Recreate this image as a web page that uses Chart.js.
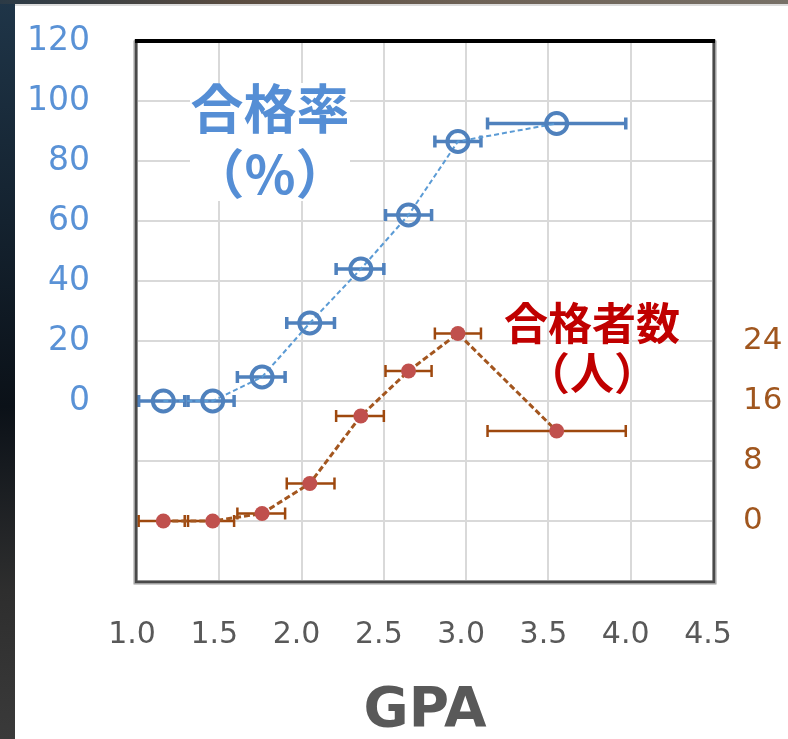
<!DOCTYPE html>
<html>
<head>
<meta charset="utf-8">
<script src="https://cdn.jsdelivr.net/npm/chart.js@4/dist/chart.umd.min.js"></script>
<style>
  html, body { margin: 0; padding: 0; background: #ffffff; }
  #wrap { position: relative; width: 788px; height: 739px; overflow: hidden; background: #ffffff; }
  #leftStrip { position: absolute; left: 0; top: 0; width: 15px; height: 739px;
    background: linear-gradient(to bottom, #1f3548 0%, #14222f 30%, #0b1118 55%, #2e2e2e 80%, #3a3a3a 100%); }
  #topStrip { position: absolute; left: 0; top: 0; width: 788px; height: 4px;
    background: linear-gradient(to right, #2b3a46 0%, #5a4c40 30%, #6e6256 60%, #777067 100%); }
  #topLine { position: absolute; left: 15px; top: 4px; width: 773px; height: 2px; background: #dcdcdc; }
  canvas { position: absolute; left: 0; top: 0; }
</style>
</head>
<body>
<div id="wrap">
  <div id="leftStrip"></div>
  <div id="topStrip"></div>
  <div id="topLine"></div>
  <canvas id="c" width="788" height="739"></canvas>
</div>
<script>
// ---- data ----
const gpaCenter = [1.16, 1.46, 1.76, 2.05, 2.36, 2.65, 2.95, 3.55];
const gpaLow    = [1.01, 1.31, 1.61, 1.91, 2.21, 2.51, 2.81, 3.13];
const gpaHigh   = [1.29, 1.59, 1.90, 2.20, 2.50, 2.79, 3.09, 3.97];
const passRate  = [0, 0, 8, 26, 44, 62, 86.5, 92.5];   // 合格率 (%)
const passers   = [0, 0, 1, 5, 14, 20, 25, 12];        // 合格者数 (人)

const xTicks   = [1.0, 1.5, 2.0, 2.5, 3.0, 3.5, 4.0, 4.5];
const rateTicks  = [0, 20, 40, 60, 80, 100, 120];
const countTicks = [0, 8, 16, 24];

const rateTitle  = ['合格率', '（%）'];
const countTitle = ['合格者数', '（人）'];
const xTitle = 'GPA';

function pts(ys) {
  return gpaCenter.map((x, i) => ({ x: x, y: ys[i], xMin: gpaLow[i], xMax: gpaHigh[i] }));
}

const errorBarPlugin = {
  id: 'errorBars',
  beforeDatasetsDraw(chart) {
    const ctx = chart.ctx;
    const xs = chart.scales.x;
    chart.data.datasets.forEach((ds, di) => {
      if (!chart.isDatasetVisible(di)) return;
      const ys = chart.scales[ds.yAxisID];
      const eb = ds.errorBar;
      ctx.save();
      ctx.strokeStyle = eb.color;
      ctx.lineWidth = eb.width;
      ctx.lineCap = 'butt';
      ds.data.forEach(p => {
        const y = ys.getPixelForValue(p.y);
        const x1 = xs.getPixelForValue(p.xMin);
        const x2 = xs.getPixelForValue(p.xMax);
        ctx.beginPath();
        ctx.moveTo(x1, y); ctx.lineTo(x2, y);
        ctx.moveTo(x1, y - eb.cap); ctx.lineTo(x1, y + eb.cap);
        ctx.moveTo(x2, y - eb.cap); ctx.lineTo(x2, y + eb.cap);
        ctx.stroke();
      });
      ctx.restore();
    });
  }
};

const frameAndLabels = {
  id: 'frameAndLabels',
  afterDraw(chart, args, opts) {
    const ctx = chart.ctx;
    const a = chart.chartArea;
    ctx.save();
    ctx.strokeStyle = '#4a4a4a';
    ctx.lineWidth = 3;
    ctx.strokeRect(a.left - 1, a.top, a.right - a.left + 2, a.bottom - a.top + 1);
    ctx.strokeStyle = '#9a9a9a';
    ctx.lineWidth = 1;
    ctx.strokeRect(a.left - 3, a.top, a.right - a.left + 6, a.bottom - a.top + 3);
    ctx.strokeStyle = '#000000';
    ctx.lineWidth = 4;
    ctx.beginPath(); ctx.moveTo(a.left - 2, a.top); ctx.lineTo(a.right + 2, a.top); ctx.stroke();
    ctx.restore();
  },
  afterDatasetsDraw(chart, args, opts) {
    const ctx = chart.ctx;
    ctx.save();
    opts.blocks.forEach(b => {
      ctx.font = 'bold ' + b.size + 'px "Noto Sans CJK JP", sans-serif';
      ctx.textAlign = 'center';
      ctx.textBaseline = 'middle';
      if (b.box) {
        ctx.fillStyle = '#ffffff';
        ctx.fillRect(b.box[0], b.box[1], b.box[2], b.box[3]);
      }
      ctx.fillStyle = b.color;
      b.lines.forEach((t, i) => ctx.fillText(t, b.cx, b.cy[i]));
    });
    ctx.restore();
  }
};

new Chart(document.getElementById('c'), {
  type: 'scatter',
  data: {
    datasets: [
      {
        label: rateTitle.join(''),
        data: pts(passRate),
        yAxisID: 'y',
        showLine: true,
        borderColor: '#5b9bd5',
        borderWidth: 2,
        borderDash: [5, 3],
        pointRadius: 10.5,
        pointHoverRadius: 10.5,
        pointBorderWidth: 4,
        pointBorderColor: '#4f81bd',
        pointBackgroundColor: 'rgba(255,255,255,0)',
        errorBar: { color: '#4f81bd', width: 3.5, cap: 6 }
      },
      {
        label: countTitle.join(''),
        data: pts(passers),
        yAxisID: 'y1',
        showLine: true,
        borderColor: '#a3561f',
        borderWidth: 3,
        borderDash: [6, 3],
        pointRadius: 7.5,
        pointHoverRadius: 7.5,
        pointBorderWidth: 0,
        pointBackgroundColor: '#c0504d',
        errorBar: { color: '#9e480e', width: 2.5, cap: 6 }
      }
    ]
  },
  options: {
    responsive: false,
    animation: false,
    layout: { padding: { top: 41, left: 0, right: 0, bottom: 0 } },
    plugins: {
      legend: { display: false },
      tooltip: { enabled: false },
      frameAndLabels: {
        blocks: [
          { lines: rateTitle, color: '#558ed5', size: 53, cx: 270, cy: [109, 174], box: [190, 83, 160, 118] },
          { lines: countTitle, color: '#c00000', size: 44, cx: 592, cy: [323, 373], box: null }
        ]
      }
    },
    scales: {
      x: {
        type: 'linear',
        min: xTicks[0], max: xTicks[xTicks.length - 1],
        afterBuildTicks: s => { s.ticks = xTicks.map(v => ({ value: v })); },
        afterFit: s => { s.height = 158; s.paddingLeft = 0; s.paddingRight = 0; },
        ticks: {
          padding: 36,
          labelOffset: -5,
          color: '#595959',
          font: { family: 'DejaVu Sans', size: 30 },
          callback: v => Number(v).toFixed(1)
        },
        grid: { color: '#d9d9d9', lineWidth: 2, drawTicks: false },
        border: { display: false },
        title: {
          display: true, text: xTitle, color: '#595959',
          font: { family: 'DejaVu Sans', weight: 'bold', size: 55, lineHeight: 1 },
          padding: { top: 0, bottom: 0 }
        }
      },
      y: {
        type: 'linear', position: 'left',
        min: -60, max: 120,
        ticks: {
          stepSize: 20, padding: 47, color: '#5a92d6',
          font: { family: 'DejaVu Sans', size: 33 },
          callback: v => rateTicks.includes(v) ? String(v) : ''
        },
        afterFit: s => { s.width = 137; s.paddingTop = 0; s.paddingBottom = 0; },
        grid: { color: '#d9d9d9', lineWidth: 2, drawTicks: false },
        border: { display: false }
      },
      y1: {
        type: 'linear', position: 'right',
        min: -8, max: 64,
        ticks: {
          stepSize: 8, padding: 30, color: '#a0561e',
          font: { family: 'DejaVu Sans', size: 31 },
          callback: v => countTicks.includes(v) ? String(v) : ''
        },
        afterFit: s => { s.width = 75; s.paddingTop = 0; s.paddingBottom = 0; },
        grid: { drawOnChartArea: false, drawTicks: false },
        border: { display: false }
      }
    }
  },
  plugins: [errorBarPlugin, frameAndLabels]
});
</script>
</body>
</html>
